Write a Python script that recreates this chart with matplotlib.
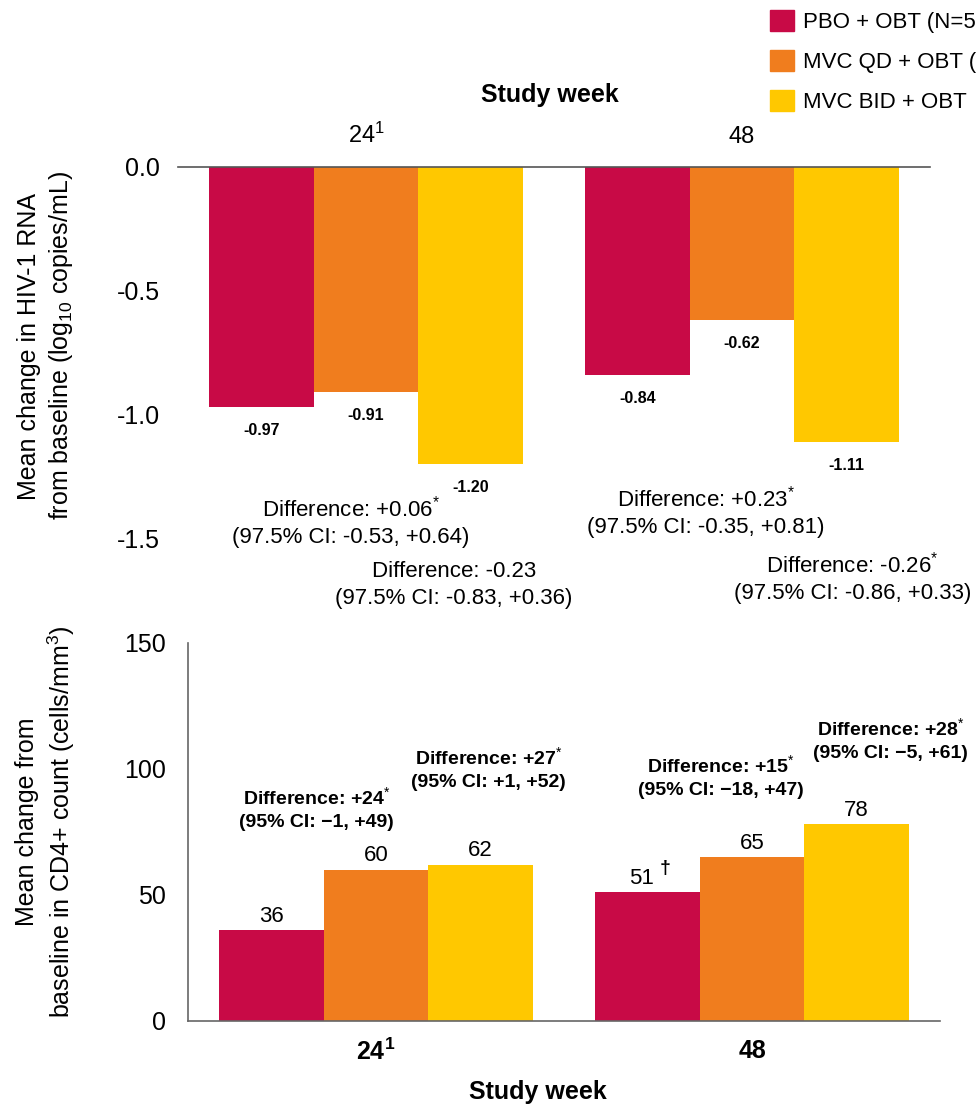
import matplotlib
matplotlib.use('Agg')
import matplotlib.pyplot as plt
import matplotlib.patches as mpatches
import numpy as np

plt.rcParams['font.family'] = ['Liberation Sans', 'DejaVu Sans']
plt.rcParams['mathtext.fontset'] = 'custom'
plt.rcParams['mathtext.rm'] = 'Liberation Sans'
plt.rcParams['mathtext.it'] = 'Liberation Sans:italic'
plt.rcParams['mathtext.bf'] = 'Liberation Sans:bold'
plt.rcParams['mathtext.default'] = 'rm'
plt.rcParams['axes.unicode_minus'] = False

# data
weeks = ['24$^{1}$', '48']
weeks_bold = [r'$\mathbf{24^{1}}$', '48']
arm_labels = ['PBO + OBT (N=5', 'MVC QD + OBT (', 'MVC BID + OBT']
arm_colors = ['#C80A46', '#F07D1E', '#FFC800']

rna_pbo = [-0.97, -0.84]
rna_qd = [-0.91, -0.62]
rna_bid = [-1.20, -1.11]

cd4_pbo = [36, 51]
cd4_qd = [60, 65]
cd4_bid = [62, 78]

rna_notes = ['Difference: +0.06$^{*}$\n(97.5% CI: -0.53, +0.64)',
             'Difference: -0.23\n(97.5% CI: -0.83, +0.36)',
             'Difference: +0.23$^{*}$\n(97.5% CI: -0.35, +0.81)',
             'Difference: -0.26$^{*}$\n(97.5% CI: -0.86, +0.33)']
rna_note_pos = [(-0.04, -1.434), (0.234, -1.689), (0.903, -1.394), (1.294, -1.661)]

cd4_notes = ['Difference: +24$^{*}$\n(95% CI: \u22121, +49)',
             'Difference: +27$^{*}$\n(95% CI: +1, +52)',
             'Difference: +15$^{*}$\n(95% CI: \u221218, +47)',
             'Difference: +28$^{*}$\n(95% CI: \u22125, +61)']
cd4_note_pos = [(-0.158, 84.1), (0.299, 100.0), (0.916, 96.8), (1.368, 111.5)]

bar_w = 0.278
x = np.arange(len(weeks))

fig = plt.figure(figsize=(9.78, 11.2), dpi=100)

# ---------- top panel: HIV-1 RNA ----------
ax1 = fig.add_axes([0.182, 0.5196, 0.769, 0.3313])
for k, vals in enumerate([rna_pbo, rna_qd, rna_bid]):
    bars = ax1.bar(x + (k - 1) * bar_w, vals, width=bar_w, color=arm_colors[k], edgecolor='none')
    for b, v in zip(bars, vals):
        ax1.annotate('%.2f' % v, (b.get_x() + b.get_width() / 2, v), xytext=(0, -17),
                     textcoords='offset points', ha='center', va='center',
                     fontsize=11.5, fontweight='bold')

ax1.set_xlim(-0.5, 1.5)
ax1.set_ylim(-1.5, 0)
ax1.set_yticks([0, -0.5, -1.0, -1.5])
ax1.set_yticklabels(['0.0', '-0.5', '-1.0', '-1.5'], fontsize=18)
ax1.xaxis.tick_top()
ax1.set_xticks(x)
ax1.set_xticklabels(weeks, fontsize=17)
ax1.tick_params(axis='x', length=0, pad=14)
ax1.tick_params(axis='y', length=0, pad=13)
for s in ['left', 'right', 'bottom']:
    ax1.spines[s].set_visible(False)
ax1.spines['top'].set_color('#555555')
ax1.spines['top'].set_linewidth(1.2)

ax1.xaxis.set_label_position('top')
ax1.set_xlabel('Study week', fontsize=18, fontweight='bold', va='center')
ax1.xaxis.set_label_coords(0.4947, 1.194)
ax1.set_ylabel('Mean change in HIV-1 RNA\nfrom baseline (log$_{10}$ copies/mL)', fontsize=18,
               va='center', linespacing=1.25)
ax1.yaxis.set_label_coords(-0.1755, 0.5175)

for txt, (tx, ty) in zip(rna_notes, rna_note_pos):
    ax1.text(tx, ty, txt, ha='center', va='center', fontsize=16, linespacing=1.35, clip_on=False)

# ---------- bottom panel: CD4+ ----------
ax2 = fig.add_axes([0.1922, 0.0884, 0.769, 0.3375])
for k, vals in enumerate([cd4_pbo, cd4_qd, cd4_bid]):
    bars = ax2.bar(x + (k - 1) * bar_w, vals, width=bar_w, color=arm_colors[k], edgecolor='none')
    for i, (b, v) in enumerate(zip(bars, vals)):
        dx = -4 if (k == 0 and i == 1) else 0
        ax2.annotate(str(v), (b.get_x() + b.get_width() / 2, v), xytext=(dx, 10),
                     textcoords='offset points', ha='center', va='center', fontsize=16)
        if k == 0 and i == 1:
            ax2.annotate('\u2020', (b.get_x() + b.get_width() / 2, v), xytext=(13, 17),
                         textcoords='offset points', ha='center', va='center',
                         fontsize=14, fontweight='bold')

ax2.set_xlim(-0.5, 1.5)
ax2.set_ylim(0, 150)
ax2.set_yticks([0, 50, 100, 150])
ax2.tick_params(axis='y', length=0, pad=16, labelsize=18)
ax2.set_xticks(x)
ax2.set_xticklabels(weeks_bold, fontsize=18, fontweight='bold')
ax2.tick_params(axis='x', length=0, pad=13)
for s in ['top', 'right']:
    ax2.spines[s].set_visible(False)
for s in ['left', 'bottom']:
    ax2.spines[s].set_color('#666666')
    ax2.spines[s].set_linewidth(1.2)

ax2.set_xlabel('Study week', fontsize=18, fontweight='bold', va='center')
ax2.xaxis.set_label_coords(0.465, -0.188)
ax2.set_ylabel('Mean change from\nbaseline in CD4+ count (cells/mm$^{3}$)', fontsize=18,
               va='center', linespacing=1.25)
ax2.yaxis.set_label_coords(-0.1888, 0.526)

for txt, (tx, ty) in zip(cd4_notes, cd4_note_pos):
    ax2.text(tx, ty, txt, ha='center', va='center', fontsize=14, fontweight='bold',
             linespacing=1.45, clip_on=False)

# ---------- legend ----------
handles = [mpatches.Patch(color=c) for c in arm_colors]
fig.legend(handles, arm_labels, loc='upper left', bbox_to_anchor=(770 / 978, 1 - 10 / 1120),
           frameon=False, fontsize=16, handlelength=1.1, handleheight=1.1,
           handletextpad=0.4, labelspacing=0.75, borderpad=0, borderaxespad=0)

fig.savefig('out.png', dpi=100)
